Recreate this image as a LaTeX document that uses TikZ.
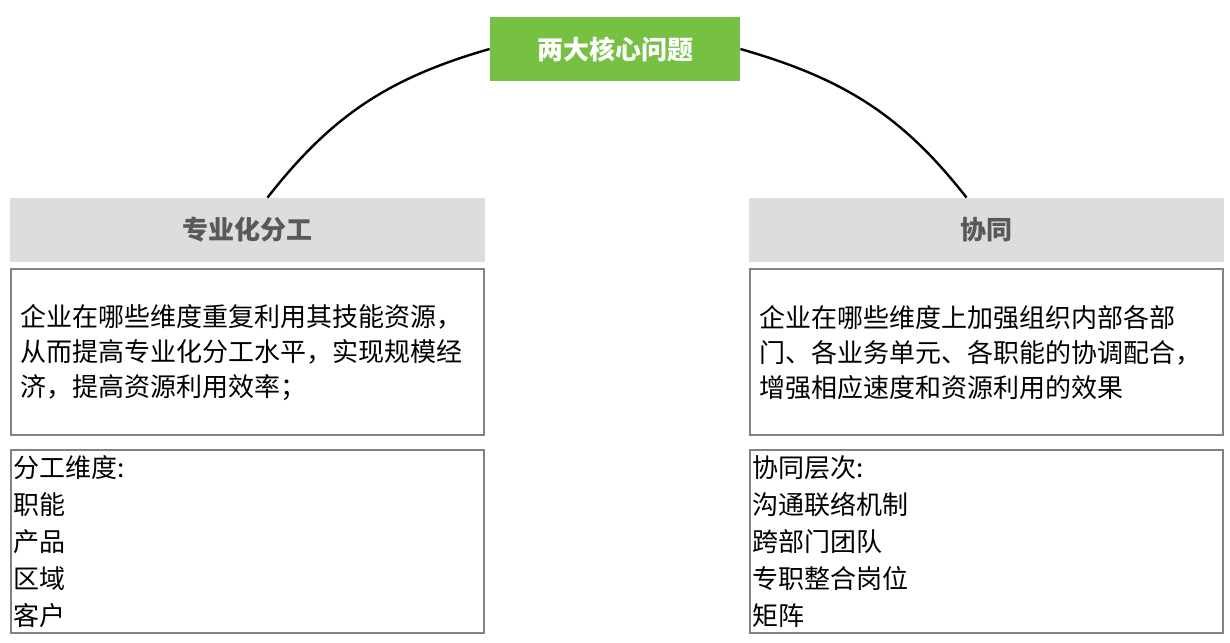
\documentclass[tikz,border=0pt]{standalone}
\usepackage{fontspec}
\newfontfamily\cjk{Noto Sans CJK SC}
\usetikzlibrary{positioning}
\definecolor{leafgreen}{HTML}{76C043}
\definecolor{headgray}{HTML}{DCDDDE}
\definecolor{framegray}{HTML}{808285}
\definecolor{inkgray}{HTML}{58595B}

\begin{document}
\begin{tikzpicture}[x=0.5pt, y=0.5pt,
      core/.style={fill=leafgreen, text=white, minimum width=125pt, minimum height=32pt, inner sep=0pt, font=\cjk\bfseries\fontsize{13pt}{16pt}\selectfont},
      head/.style={fill=headgray, text=inkgray, minimum width=237.5pt, minimum height=32pt, inner sep=0pt, font=\cjk\bfseries\fontsize{13pt}{16pt}\selectfont},
      desc/.style={draw=framegray, line width=1pt, minimum width=236.5pt, minimum height=83pt, inner xsep=4.5pt, text width=227.5pt, align=left, font=\cjk\fontsize{13pt}{17.5pt}\selectfont},
      list/.style={draw=framegray, line width=1pt, minimum width=236.5pt, minimum height=91.5pt, inner sep=0pt},
      item/.style={anchor=north west, inner sep=0pt, align=left, font=\cjk\fontsize{13pt}{18.5pt}\selectfont},
      link/.style={line width=1.2pt, black}
    ]
    \useasboundingbox (0,0) rectangle (1230,642);
    \node[core] (core) at (615,593) {两大核心问题};
    \node[head] (lhead) at (247.5,412) {专业化分工};
    \node[head] (rhead) at (986.5,412) {协同};
    \node[desc, below=3pt of lhead] (ldesc) {企业在哪些维度重复利用其技能资源，\\从而提高专业化分工水平，实现规模经\\济，提高资源利用效率；};
    \node[desc, below=3pt of rhead] (rdesc) {企业在哪些维度上加强组织内部各部\\门、各业务单元、各职能的协调配合，\\增强相应速度和资源利用的效果};
    \node[list, below=6.5pt of ldesc] (llist) {};
    \node[list, below=6.5pt of rdesc] (rlist) {};
    \node[item] (litems) at ([xshift=1.5pt, yshift=-3pt]llist.north west) {分工维度:\\职能\\产品\\区域\\客户};
    \node[item] (ritems) at ([xshift=1.5pt, yshift=-3pt]rlist.north west) {协同层次:\\沟通联络机制\\跨部门团队\\专职整合岗位\\矩阵};
    \draw[link] ([xshift=10pt]lhead.north) to[out=52, in=196] (core.west);
    \draw[link] (core.east) to[out=-16, in=128] ([xshift=-10pt]rhead.north);
  \end{tikzpicture}
\end{document}
